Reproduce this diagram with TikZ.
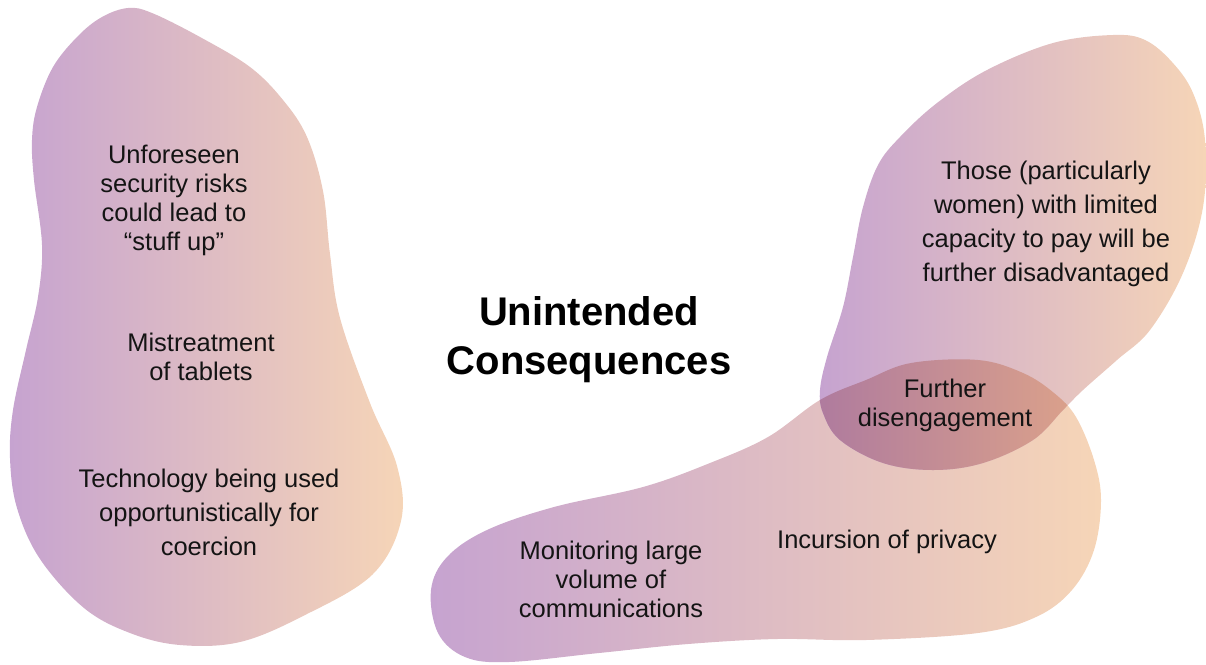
\documentclass[tikz,border=0pt]{standalone}
\usepackage{fontspec}
\setmainfont{Liberation Sans}
\definecolor{pu}{RGB}{198,163,208}
\definecolor{pe}{RGB}{246,213,183}
\definecolor{ovL}{RGB}{175,123,158}
\definecolor{ovR}{RGB}{220,162,138}
\definecolor{ink}{RGB}{20,20,20}
\newcommand\blobA{plot[smooth cycle, tension=0.6] coordinates {(128,8) (152,13) (200,37) (250,67) (283,100) (307,137) (323,191) (330,254) (340,318) (370,403) (397,466) (401,521) (372,575) (303,616) (240,642) (180,645) (130,633) (84,608) (40,559) (17,508) (10,458) (13,410) (26,350) (38,297) (42,245) (34,180) (32,140) (37,107) (53,67) (78,36) (102,17)}}
\newcommand\blobB{plot[smooth cycle, tension=0.6] coordinates {(1113,35) (1145,40) (1172,62) (1193,93) (1205,140) (1203,207) (1183,273) (1150,330) (1117,360) (1083,390) (1063,410) (1033,440) (983,463) (933,470) (883,463) (840,440) (823,413) (820,390) (827,357) (843,307) (853,257) (863,207) (878,165) (900,137) (937,103) (987,70) (1053,43)}}
\newcommand\blobC{plot[smooth cycle, tension=0.6] coordinates {(820,400) (866,380) (911,363) (978,360) (1023,373) (1054,393) (1076,417) (1094,460) (1101,500) (1094,550) (1072,590) (1036,617) (978,633) (866,640) (777,639) (688,644) (599,653) (509,662) (465,657) (438,633) (431,590) (447,557) (487,530) (554,507) (643,487) (710,463) (768,437)}}
\tikzset{
  blob/.style={left color=pu, right color=pe, draw=none},
  txt/.style={align=center, inner sep=0pt, text=ink, font=\fontsize{25.5}{29}\selectfont},
  txtwide/.style={txt, font=\fontsize{25.5}{34}\selectfont},
  title/.style={align=center, inner sep=0pt, text=black, font=\bfseries\fontsize{40}{49}\selectfont}
}
\begin{document}
\begin{tikzpicture}[x=1pt,y=-1pt]
\useasboundingbox (0,0) rectangle (1206,664);
\shade[blob] \blobA;
\shade[blob] \blobC;
\shade[blob] \blobB;
\begin{scope}
  \clip \blobB;
  \clip \blobC;
  \shade[left color=ovL, right color=ovR] (818,350) rectangle (1080,480);
\end{scope}
\node[txt] (unf) at (174,200) {Unforeseen\\security risks\\could lead to\\“stuff up”};
\node[txt] (mis) at (201,357) {Mistreatment\\of tablets};
\node[txtwide] (tec) at (209,512) {Technology being used\\opportunistically for\\coercion};
\node[title] (ttl) at (589,340) {Unintended\\Consequences};
\node[txtwide] (tho) at (1046,224) {Those (particularly\\women) with limited\\capacity to pay will be\\further disadvantaged};
\node[txt] (fur) at (945,405) {Further\\disengagement};
\node[txt] (mon) at (611,579) {Monitoring large\\volume of\\communications};
\node[txt] (inc) at (887,542) {Incursion of privacy};
\end{tikzpicture}
\end{document}
